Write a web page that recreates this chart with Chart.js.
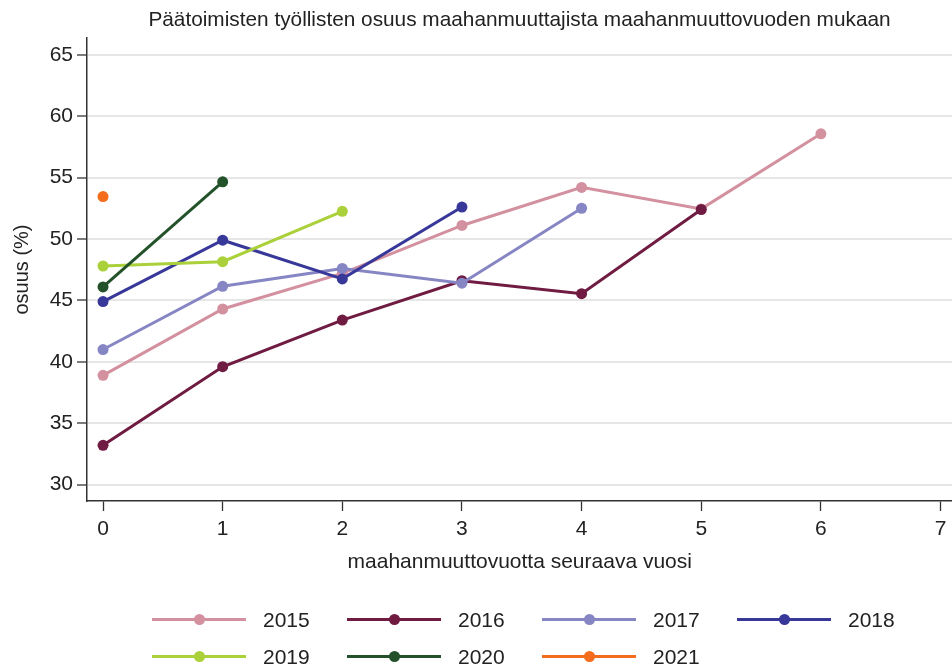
<!DOCTYPE html>
<html>
<head>
<meta charset="utf-8">
<script src="https://cdn.jsdelivr.net/npm/chart.js@4"></script>
<style>
  html, body { margin: 0; padding: 0; background: #fff; }
  body { width: 952px; height: 666px; position: relative; overflow: hidden; font-family: "Liberation Sans", Arial, sans-serif; color: #222; }
  #wrap { position: absolute; left: 0; top: 0; width: 958px; height: 666px; }
  #title { position: absolute; left: 87px; width: 865px; top: 7px; text-align: center; font-size: 20.8px; white-space: nowrap; }
  #legend { position: absolute; left: 152px; top: 606px; display: grid; grid-template-columns: 195px 195px 195px 195px; row-gap: 9px; }
  .item { position: relative; height: 28px; font-size: 21px; }
  .item .ln { position: absolute; left: 0; top: 12px; width: 94px; height: 3px; }
  .item .dot { position: absolute; left: 42px; top: 8px; width: 11px; height: 11px; border-radius: 50%; }
  .item .tx { position: absolute; left: 111px; top: 2px; }
</style>
</head>
<body>
<div id="wrap"><canvas id="c" width="958" height="666"></canvas></div>
<div id="title">Päätoimisten työllisten osuus maahanmuuttajista maahanmuuttovuoden mukaan</div>
<div id="legend"></div>
<script>
const years = ["2015", "2016", "2017", "2018", "2019", "2020", "2021"];
const s2015 = [38.9, 44.3, 47.2, 51.1, 54.2, 52.45, 58.56];
const s2016 = [33.2, 39.6, 43.4, 46.6, 45.55, 52.4];
const s2017 = [41.0, 46.15, 47.6, 46.4, 52.5];
const s2018 = [44.9, 49.9, 46.75, 52.6];
const s2019 = [47.8, 48.15, 52.25];
const s2020 = [46.1, 54.65];
const s2021 = [53.45];
const colors = ["#d3909f", "#6f1b42", "#8786c4", "#38389a", "#aad03a", "#23522a", "#f36d1d"];
const xTicks = [0, 1, 2, 3, 4, 5, 6, 7];
const yTicks = [30, 35, 40, 45, 50, 55, 60, 65];

const series = [s2015, s2016, s2017, s2018, s2019, s2020, s2021];
const datasets = series.map((vals, i) => ({
  label: years[i],
  data: vals.map((v, k) => ({ x: k, y: v })),
  borderColor: colors[i],
  backgroundColor: colors[i],
  pointBackgroundColor: colors[i],
  pointBorderColor: colors[i],
  borderWidth: 3,
  pointRadius: 5.5,
  pointBorderWidth: 0,
  tension: 0,
  order: series.length - i
}));

const tickFont = { family: "'Liberation Sans', Arial, sans-serif", size: 21 };
const titleFont = { family: "'Liberation Sans', Arial, sans-serif", size: 21 };
const yTitleFont = { family: "'Liberation Sans', Arial, sans-serif", size: 20 };

new Chart(document.getElementById('c'), {
  type: 'line',
  data: { datasets },
  options: {
    responsive: false,
    animation: false,
    layout: { padding: { top: 38, right: 0, bottom: 91, left: 0 } },
    plugins: { legend: { display: false }, title: { display: false }, tooltip: { enabled: false } },
    scales: {
      x: {
        type: 'linear',
        min: -0.134,
        max: 7.1,
        afterBuildTicks: (s) => { s.ticks = xTicks.map(v => ({ value: v })); },
        afterFit: (s) => { s.height = 74; s.paddingLeft = 0; s.paddingRight = 0; },
        ticks: { font: tickFont, color: '#222', padding: 6, autoSkip: false, maxRotation: 0, callback: (v) => String(v) },
        grid: { display: true, drawOnChartArea: false, tickLength: 10, tickColor: '#333', tickWidth: 1.3 },
        border: { display: true, color: '#333', width: 1.5 },
        title: { display: true, text: 'maahanmuuttovuotta seuraava vuosi', font: titleFont, color: '#222', padding: { top: 0, bottom: 0 } }
      },
      y: {
        type: 'linear',
        min: 28.67,
        max: 66.36,
        afterBuildTicks: (s) => { s.ticks = yTicks.map(v => ({ value: v })); },
        afterFit: (s) => { s.width = 87; s.paddingTop = 0; s.paddingBottom = 0; },
        ticks: { font: tickFont, color: '#222', padding: 4, autoSkip: false, callback: (v) => String(v) },
        grid: { display: true, drawOnChartArea: true, color: '#e6e6e6', lineWidth: 2, tickLength: 10, tickColor: '#333', tickWidth: 1.3 },
        border: { display: true, color: '#333', width: 1.5 },
        title: { display: true, text: 'osuus (%)', font: yTitleFont, color: '#222', padding: { top: 10, bottom: 0 } }
      }
    }
  }
});

const lg = document.getElementById('legend');
years.forEach((y, i) => {
  const d = document.createElement('div');
  d.className = 'item';
  d.innerHTML = '<div class="ln" style="background:' + colors[i] + '"></div><div class="dot" style="background:' + colors[i] + '"></div><div class="tx">' + y + '</div>';
  lg.appendChild(d);
});
</script>
</body>
</html>
